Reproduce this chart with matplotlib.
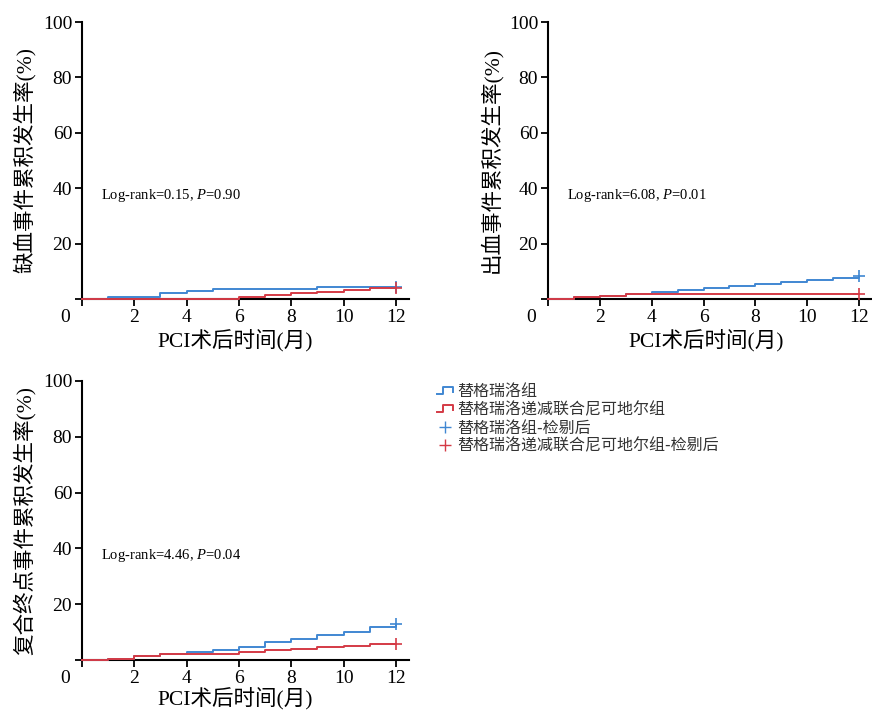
import matplotlib
matplotlib.use('Agg')
import matplotlib.pyplot as plt
from matplotlib.lines import Line2D
from matplotlib.legend_handler import HandlerBase
from matplotlib.transforms import ScaledTranslation

plt.rcParams['font.family'] = ['Liberation Serif', 'Noto Sans CJK SC']
plt.rcParams['mathtext.fontset'] = 'custom'
plt.rcParams['mathtext.rm'] = 'Liberation Serif'
plt.rcParams['mathtext.it'] = 'Liberation Serif:italic'

BLUE = '#4087d2'
RED = '#d43a45'

months = [0, 1, 2, 3, 4, 5, 6, 7, 8, 9, 10, 11, 12]

# 缺血事件
isch_blue = [0, 0.6, 0.6, 2.2, 2.9, 3.4, 3.4, 3.4, 3.4, 4.2, 4.2, 4.2, 4.2]
isch_red = [0, 0, 0, 0, 0, 0, 0.6, 1.3, 2.0, 2.5, 3.2, 3.9, 3.9]
# 出血事件
bleed_blue = [0, 0.6, 1.1, 1.9, 2.6, 3.2, 3.8, 4.5, 5.4, 6.1, 6.7, 7.6, 8.2]
bleed_red = [0, 0.6, 1.2, 1.9, 1.9, 1.9, 1.9, 1.9, 1.9, 1.9, 1.9, 1.9, 1.9]
# 复合终点事件
comp_blue = [0, 0.5, 1.3, 2.0, 2.9, 3.6, 4.8, 6.3, 7.5, 8.9, 10.2, 11.7, 12.8]
comp_red = [0, 0.5, 1.3, 2.0, 2.1, 2.1, 2.7, 3.5, 4.0, 4.6, 5.2, 5.8, 5.8]

ylabels = ['缺血事件累积发生率(%)', '出血事件累积发生率(%)', '复合终点事件累积发生率(%)']
stats = [r'Log-rank=0.15, $\mathit{P}$=0.90',
         r'Log-rank=6.08, $\mathit{P}$=0.01',
         r'Log-rank=4.46, $\mathit{P}$=0.04']
legend_labels = ['替格瑞洛组', '替格瑞洛递减联合尼可地尔组',
                 '替格瑞洛组-检剔后', '替格瑞洛递减联合尼可地尔组-检剔后']

fig = plt.figure(figsize=(8.72, 7.10), dpi=100)
ax1 = fig.add_axes([0.094, 0.579, 0.375, 0.390])
ax2 = fig.add_axes([0.6284, 0.579, 0.3716, 0.390])
ax3 = fig.add_axes([0.094, 0.0704, 0.375, 0.393])

panels = [(ax1, isch_blue, isch_red), (ax2, bleed_blue, bleed_red), (ax3, comp_blue, comp_red)]
xlabel_pos = [(0.468, -0.112), (0.488, -0.112), (0.468, -0.100)]

for i, (ax, yb, yr) in enumerate(panels):
    ax.step(months, yb, where='post', color=BLUE, lw=1.4, clip_on=False, zorder=3)
    ax.step(months, yr, where='post', color=RED, lw=1.4, clip_on=False, zorder=4)
    ax.plot(months[-1], yb[-1], '+', color=BLUE, ms=8, mew=1.2, clip_on=False, zorder=5)
    ax.plot(months[-1], yr[-1], '+', color=RED, ms=8, mew=1.2, clip_on=False, zorder=5)
    ax.set_xlim(0, 12.5)
    ax.set_ylim(0, 100)
    ax.set_xticks([0, 2, 4, 6, 8, 10, 12])
    ax.set_yticks([0, 20, 40, 60, 80, 100])
    ax.set_yticklabels(['', '20', '40', '60', '80', '100'])
    for s in ['top', 'right']:
        ax.spines[s].set_visible(False)
    for s in ['left', 'bottom']:
        ax.spines[s].set_linewidth(1.5)
    ax.tick_params(direction='out', length=5, width=1.3, labelsize=14, pad=2)
    # 原点 "0" 放在左下角
    lab0 = ax.get_xticklabels()[0]
    lab0.set_transform(lab0.get_transform() + ScaledTranslation(-12 / 72, 0, fig.dpi_scale_trans))
    ax.set_xlabel('PCI术后时间(月)', fontsize=15.5)
    ax.xaxis.set_label_coords(*xlabel_pos[i])
    ax.set_ylabel(ylabels[i], fontsize=15.5, labelpad=5)
    ax.text(0.72, 37.5, stats[i], fontsize=10.5, va='center', ha='left')


class HandlerStep(HandlerBase):
    def create_artists(self, legend, orig_handle, xdescent, ydescent,
                       width, height, fontsize, trans):
        x0 = -xdescent
        y0 = -ydescent
        xs = [x0, x0 + 0.4 * width, x0 + 0.4 * width, x0 + width, x0 + width]
        ys = [y0 + 0.2 * height, y0 + 0.2 * height, y0 + 0.8 * height,
              y0 + 0.8 * height, y0 + 0.4 * height]
        line = Line2D(xs, ys, color=orig_handle.get_color(), lw=1.4, transform=trans)
        return [line]


h1 = Line2D([], [], color=BLUE)
h2 = Line2D([], [], color=RED)
h3 = Line2D([], [], color=BLUE, marker='+', ls='none', ms=9, mew=1.0)
h4 = Line2D([], [], color=RED, marker='+', ls='none', ms=9, mew=1.0)
fig.legend([h1, h2, h3, h4], legend_labels,
           handler_map={h1: HandlerStep(), h2: HandlerStep()},
           loc='upper left', bbox_to_anchor=(429 / 872, 1 - 375 / 710),
           frameon=False, borderpad=0, handlelength=1.0, handletextpad=0.3,
           labelspacing=0.08, prop={'family': ['Noto Sans CJK SC'], 'size': 11.5},
           labelcolor='#333333')

fig.savefig('out.png', dpi=100)
